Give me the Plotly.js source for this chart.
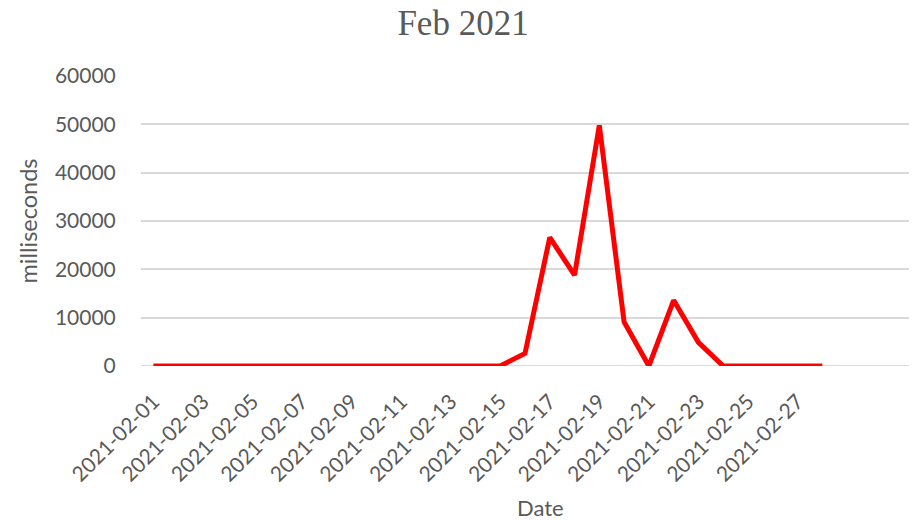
<!DOCTYPE html>
<html>
<head>
<meta charset="utf-8">
<script src="https://cdn.plot.ly/plotly-3.0.1.min.js"></script>
<style>html,body{margin:0;padding:0;background:#fff;}#chart{width:913px;height:521px;}</style>
</head>
<body>
<div id="chart"></div>
<script>
var dates = ["2021-02-01","2021-02-02","2021-02-03","2021-02-04","2021-02-05","2021-02-06","2021-02-07",
  "2021-02-08","2021-02-09","2021-02-10","2021-02-11","2021-02-12","2021-02-13","2021-02-14",
  "2021-02-15","2021-02-16","2021-02-17","2021-02-18","2021-02-19","2021-02-20","2021-02-21",
  "2021-02-22","2021-02-23","2021-02-24","2021-02-25","2021-02-26","2021-02-27","2021-02-28"];
var milliseconds = [0,0,0,0,0,0,0,
  0,0,0,0,0,0,0,
  0,2600,26600,18800,49800,9100,0,
  13600,4900,0,0,0,0,0];
var tickLabels = ["2021-02-01","2021-02-03","2021-02-05","2021-02-07","2021-02-09","2021-02-11","2021-02-13",
  "2021-02-15","2021-02-17","2021-02-19","2021-02-21","2021-02-23","2021-02-25","2021-02-27"];
var yTicks = [0,10000,20000,30000,40000,50000,60000];

var grey = "#595959";
var sans = "Lato, 'Open Sans', sans-serif";

var trace = {
  x: dates, y: milliseconds, type: "scatter", mode: "lines",
  line: {color: "#ff0000", width: 5}, hoverinfo: "x+y"
};

var layout = {
  width: 913, height: 521,
  margin: {l: 141, r: 4, t: 76, b: 155},
  paper_bgcolor: "#fff", plot_bgcolor: "#fff",
  showlegend: false,
  title: {text: "Feb 2021", font: {family: "'Liberation Serif', 'Times New Roman', serif", size: 35, color: grey},
          x: 463/913, xref: "container", xanchor: "center", y: 1 - 23/521, yref: "container", yanchor: "middle"},
  xaxis: {
    type: "category", range: [-0.5, 30.5],
    tickmode: "array", tickvals: tickLabels, ticktext: tickLabels,
    tickangle: -45, tickfont: {family: sans, size: 21, color: grey},
    showgrid: false, showline: false, zeroline: false,
    ticks: "outside", ticklen: 14, tickcolor: "rgba(0,0,0,0)"
  },
  yaxis: {
    range: [0, 60000], tickmode: "array", tickvals: yTicks, ticktext: yTicks.map(String),
    tickfont: {family: sans, size: 21, color: grey},
    showgrid: true, gridcolor: "#d9d9d9", gridwidth: 2,
    zeroline: false, showline: false,
    ticks: "outside", ticklen: 20, tickcolor: "rgba(0,0,0,0)",
    title: {text: "milliseconds", font: {family: sans, size: 23.5, color: grey}, standoff: 10}
  },
  annotations: [{text: "Date", xref: "paper", yref: "paper", x: (540 - 141) / 768, y: -(507 - 366) / 290,
                 xanchor: "center", yanchor: "middle", showarrow: false,
                 font: {family: sans, size: 22, color: grey}}],
  shapes: [{type: "line", xref: "paper", yref: "y", x0: 0, x1: 1, y0: 0, y1: 0, line: {color: "#d9d9d9", width: 2}, layer: "below"}]
};

Plotly.newPlot("chart", [trace], layout, {displayModeBar: false, staticPlot: true});
</script>
</body>
</html>
